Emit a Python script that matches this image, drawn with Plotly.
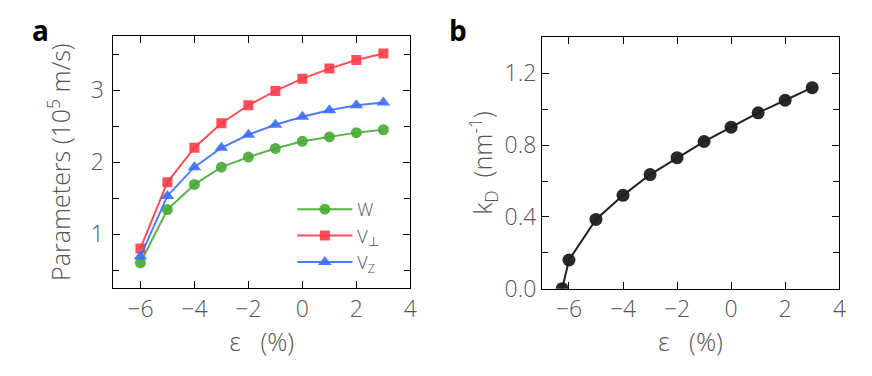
import plotly.graph_objects as go

# strain values (%)
strain = [-6, -5, -4, -3, -2, -1, 0, 1, 2, 3]
w_vals = [0.60, 1.34, 1.69, 1.93, 2.07, 2.19, 2.29, 2.35, 2.41, 2.45]
vperp_vals = [0.80, 1.72, 2.20, 2.54, 2.79, 2.99, 3.16, 3.30, 3.42, 3.51]
vz_vals = [0.69, 1.53, 1.93, 2.20, 2.38, 2.52, 2.63, 2.72, 2.79, 2.83]

strain_b = [-6.25, -6, -5, -4, -3, -2, -1, 0, 1, 2, 3]
kd_vals = [0.0, 0.16, 0.386, 0.52, 0.636, 0.73, 0.82, 0.90, 0.98, 1.05, 1.12]

txt = "#555555"
fnt = dict(family="Open Sans", size=23, color=txt, weight=300)

fig = go.Figure()

series = [
    ("W", w_vals, "rgba(70,170,50,0.9)", "circle", 11),
    ("V<sub>⊥</sub>", vperp_vals, "rgba(250,60,70,0.9)", "square", 10),
    ("V<sub>Z</sub>", vz_vals, "rgba(60,110,250,0.9)", "triangle-up", 12),
]
for name, vals, col, sym, sz in series:
    fig.add_trace(go.Scatter(
        x=strain, y=vals, name=name, mode="lines+markers",
        line=dict(color=col, width=2),
        marker=dict(symbol=sym, size=sz, color=col),
        xaxis="x", yaxis="y"))

fig.add_trace(go.Scatter(
    x=strain_b, y=kd_vals, mode="lines+markers", showlegend=False,
    line=dict(color="#222222", width=2),
    marker=dict(symbol="circle", size=13, color="rgba(30,30,30,0.95)"),
    xaxis="x2", yaxis="y2"))

axis_common = dict(
    showline=True, linecolor="black", linewidth=1, mirror="ticks",
    ticks="inside", ticklen=7, tickcolor="black", showgrid=False,
    zeroline=False, tickfont=fnt,
)
title_font = dict(family="Open Sans", size=25, color=txt, weight=300)

fig.update_layout(
    width=872, height=376,
    margin=dict(l=0, r=0, t=0, b=0),
    paper_bgcolor="white", plot_bgcolor="white",
    font=fnt,
    xaxis=dict(axis_common, domain=[0.1311, 0.4744], range=[-7, 4],
               tickvals=[-6, -4, -2, 0, 2, 4], anchor="y",
               title=dict(text="ε   (%)", font=title_font, standoff=7)),
    yaxis=dict(axis_common, domain=[0.2021, 0.8997], range=[0.25, 3.75],
               tickvals=[1, 2, 3], anchor="x", ticklabelstandoff=4,
               minor=dict(tickvals=[0.5, 1.5, 2.5, 3.5], ticks="inside", ticklen=6, tickcolor="black"),
               title=dict(text="Parameters (10<sup>5</sup> m/s)", font=title_font, standoff=12)),
    xaxis2=dict(axis_common, domain=[0.6265, 0.9702], range=[-7, 4],
                tickvals=[-6, -4, -2, 0, 2, 4], anchor="y2",
                title=dict(text="ε   (%)", font=title_font, standoff=7)),
    yaxis2=dict(axis_common, domain=[0.2003, 0.8963], range=[0, 1.4],
                tickvals=[0, 0.4, 0.8, 1.2], tickformat=".1f", anchor="x2",
                minor=dict(tickvals=[0.2, 0.6, 1.0], ticks="inside", ticklen=6, tickcolor="black"),
                title=dict(text="k<sub>D</sub>  (nm<sup>-1</sup>)", font=title_font, standoff=4)),
    legend=dict(x=0.338, y=0.471, xanchor="left", yanchor="top",
                bgcolor="rgba(0,0,0,0)", font=dict(family="Open Sans", size=18, color=txt, weight=300),
                itemwidth=55, tracegroupgap=0),
    annotations=[
        dict(text="<b>a</b>", x=0.0344, y=0.976, xref="paper", yref="paper",
             showarrow=False, xanchor="left", yanchor="top",
             font=dict(family="Open Sans", size=28, color="black")),
        dict(text="<b>b</b>", x=0.517, y=0.976, xref="paper", yref="paper",
             showarrow=False, xanchor="left", yanchor="top",
             font=dict(family="Open Sans", size=28, color="black")),
    ],
)

# drop the default body margin so the figure fills the window
fig.write_html("out.html", config={"displayModeBar": False},
               post_script="document.body.style.margin='0';")
